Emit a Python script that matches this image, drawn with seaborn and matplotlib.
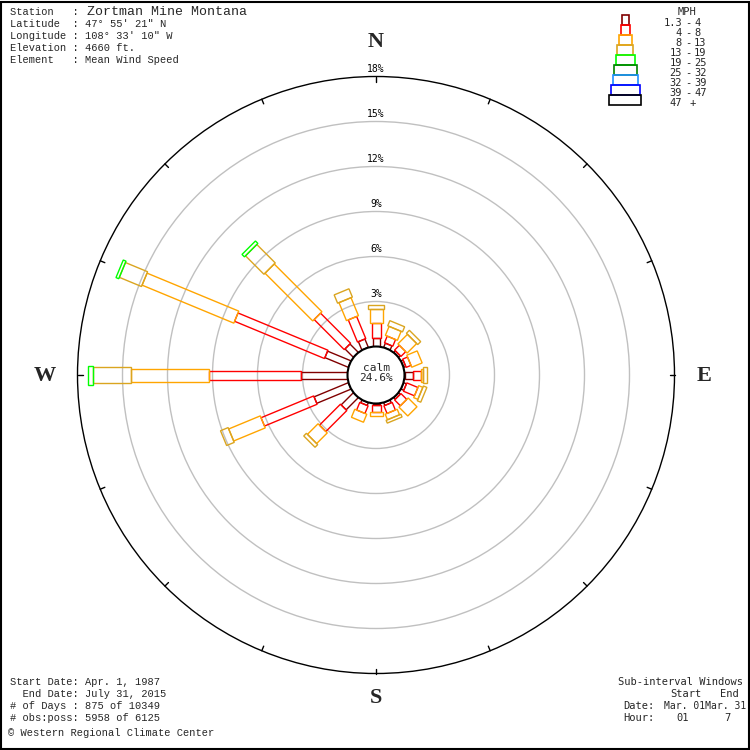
import numpy as np
import matplotlib
matplotlib.use("Agg")
import matplotlib.pyplot as plt
from matplotlib.patches import Circle, Polygon, Rectangle
import seaborn as sns

# compass directions, clockwise from north
directions = ["N", "NNE", "NE", "ENE", "E", "ESE", "SE", "SSE",
              "S", "SSW", "SW", "WSW", "W", "WNW", "NW", "NNW"]
dir_angles = [0, 22.5, 45, 67.5, 90, 112.5, 135, 157.5,
              180, 202.5, 225, 247.5, 270, 292.5, 315, 337.5]

speed_labels = ["1.3 - 4", "4 - 8", "8 - 13", "13 - 19", "19 - 25",
                "25 - 32", "32 - 39", "39 - 47", "47 +"]
speed_colors = ["#800000", "#ff0000", "#ffa500", "#daa520", "#00ff00",
                "#008000", "#1e90ff", "#0000ff", "#000000"]
speed_widths = [7, 9, 13, 16, 19, 23, 25, 29, 32]  # px

# frequency (%) per direction for each speed class
freq_1_4 = [0.58, 0.30, 0.15, 0.15, 0.58, 0.20, 0.15, 0.20,
            0.13, 0.20, 1.15, 2.47, 3.09, 1.69, 0.79, 0.60]
freq_4_8 = [1.00, 0.48, 0.45, 0.35, 0.49, 0.80, 0.55, 0.55,
            0.45, 0.55, 1.98, 3.80, 6.15, 6.49, 2.84, 1.60]
freq_8_13 = [0.93, 0.65, 0.90, 0.75, 0.17, 0.30, 0.83, 0.40,
             0.26, 0.58, 1.00, 2.28, 5.18, 6.62, 4.50, 1.30]
freq_13_19 = [0.29, 0.37, 0.28, 0.00, 0.27, 0.25, 0.00, 0.20,
              0.00, 0.00, 0.25, 0.55, 2.58, 1.60, 1.74, 0.60]
freq_19_25 = [0.00, 0.00, 0.00, 0.00, 0.00, 0.00, 0.00, 0.00,
              0.00, 0.00, 0.00, 0.00, 0.27, 0.20, 0.23, 0.00]
freqs = [freq_1_4, freq_4_8, freq_8_13, freq_13_19, freq_19_25]

calm_pct = 24.6
ring_pcts = [3, 6, 9, 12, 15, 18]

header = ["Station   : ", "Latitude  : 47\u00b0 55' 21\" N", "Longitude : 108\u00b0 33' 10\" W",
          "Elevation : 4660 ft.", "Element   : Mean Wind Speed"]
station = "Zortman Mine Montana"
footer = ["Start Date: Apr. 1, 1987", "  End Date: July 31, 2015",
          "# of Days : 875 of 10349", "# obs:poss: 5958 of 6125"]

sns.set_theme(style="white")
plt.rcParams["font.family"] = ["DejaVu Sans Mono", "DejaVu Sans"]

W = 750
PX = 15.0          # pixels per percent
CX, CY = 376, 375  # centre of rose (px from top-left)
CALM_R = 28.5 / PX

fig = plt.figure(figsize=(7.5, 7.5), dpi=100)
fig.patch.set_facecolor("white")
ax = fig.add_axes([0, 0, 1, 1])
ax.set_xlim(-CX / PX, (W - CX) / PX)
ax.set_ylim(-(W - CY) / PX, CY / PX)
ax.set_aspect("equal")
ax.axis("off")


def to_data(xp, yp):
    return (xp - CX) / PX, (CY - yp) / PX


def fpos(xp, yp):
    return xp / W, 1 - yp / W


# rings
for p in ring_pcts:
    col = "black" if p == ring_pcts[-1] else "#c0c0c0"
    ax.add_patch(Circle((0, 0), CALM_R + p, fill=False, ec=col, lw=1.0, zorder=1))
    ax.text(0, CALM_R + p + 2.5 / PX, f"{p}%", ha="center", va="bottom",
            fontsize=7, color="black", zorder=4)

# ticks on outer ring
r_out = CALM_R + ring_pcts[-1]
for a in dir_angles:
    t = np.deg2rad(a)
    ax.plot([r_out * np.sin(t), (r_out - 5 / PX) * np.sin(t)],
            [r_out * np.cos(t), (r_out - 5 / PX) * np.cos(t)],
            color="black", lw=1.0, zorder=2)

# stacked bars
for i, a in enumerate(dir_angles):
    t = np.deg2rad(a)
    u = np.array([np.sin(t), np.cos(t)])
    v = np.array([np.cos(t), -np.sin(t)])
    r0 = CALM_R
    for k, fl in enumerate(freqs):
        f = fl[i]
        if f <= 0:
            continue
        r1 = r0 + f
        hw = speed_widths[k] / PX / 2
        pts = [u * r0 + v * hw, u * r1 + v * hw, u * r1 - v * hw, u * r0 - v * hw]
        ax.add_patch(Polygon(pts, closed=True, fill=False, ec=speed_colors[k],
                             lw=1.0, zorder=3))
        r0 = r1

# calm circle
ax.add_patch(Circle((0, 0), CALM_R, fc="white", ec="black", lw=1.5, zorder=5))
ax.text(0, 0.45, "calm", ha="center", va="center", fontsize=8, zorder=6)
ax.text(0, -0.2, f"{calm_pct}%", ha="center", va="center", fontsize=8, zorder=6)

# compass letters
for lab, (xp, yp) in zip(["N", "S", "W", "E"], [(376, 42), (376, 698), (45, 376), (704, 376)]):
    fig.text(*fpos(xp, yp), lab, ha="center", va="center", fontsize=16,
             fontweight="bold", family="Liberation Serif")

# legend pyramid
fig.text(*fpos(687, 12), "MPH", ha="center", va="center", fontsize=7.5)
for k, lab in enumerate(speed_labels):
    top = 15 + 10 * k
    x0, y0 = to_data(625 - speed_widths[k] / 2, top + 10)
    ax.add_patch(Rectangle((x0, y0), speed_widths[k] / PX, 10 / PX, fill=False,
                           ec=speed_colors[k], lw=1.2, zorder=3))
    parts = lab.split(" ")
    fig.text(*fpos(682, top + 8), parts[0], ha="right", va="center", fontsize=7.5)
    if len(parts) == 3:
        fig.text(*fpos(688, top + 8), "-", ha="center", va="center", fontsize=7.5)
        fig.text(*fpos(694, top + 8), parts[2], ha="left", va="center", fontsize=7.5)
    else:
        fig.text(*fpos(690, top + 8), parts[1], ha="left", va="center", fontsize=7.5)

# header
fig.text(*fpos(10, 12), header[0], ha="left", va="center", fontsize=7.5, family="Liberation Mono")
fig.text(*fpos(87, 12), station, ha="left", va="center", fontsize=9.5, family="Liberation Mono")
for j, line in enumerate(header[1:]):
    fig.text(*fpos(10, 24 + 12 * j), line, ha="left", va="center", fontsize=7.5,
             family="Liberation Mono")

# footer left
for j, line in enumerate(footer):
    fig.text(*fpos(10, 682 + 12 * j), line, ha="left", va="center", fontsize=7.5,
             family="Liberation Mono")
fig.text(*fpos(8, 733), "\u00a9 Western Regional Climate Center", ha="left", va="center",
         fontsize=7.5, family="Liberation Mono")

# footer right
fig.text(*fpos(618, 682), "Sub-interval Windows", ha="left", va="center", fontsize=7.5)
fig.text(*fpos(670, 694), "Start", ha="left", va="center", fontsize=7.5)
fig.text(*fpos(720, 694), "End", ha="left", va="center", fontsize=7.5)
fig.text(*fpos(623, 706), "Date:", ha="left", va="center", fontsize=7.5)
fig.text(*fpos(664, 706), "Mar. 01Mar. 31", ha="left", va="center", fontsize=7)
fig.text(*fpos(623, 718), "Hour:", ha="left", va="center", fontsize=7.5)
fig.text(*fpos(676, 718), "01", ha="left", va="center", fontsize=7.5)
fig.text(*fpos(724, 718), "7", ha="left", va="center", fontsize=7.5)

# figure border
fig.patches.append(Rectangle((0.001, 0.001), 0.997, 0.997, transform=fig.transFigure,
                             fill=False, ec="black", lw=1.5))

fig.savefig("out.png", dpi=100, facecolor="white")
